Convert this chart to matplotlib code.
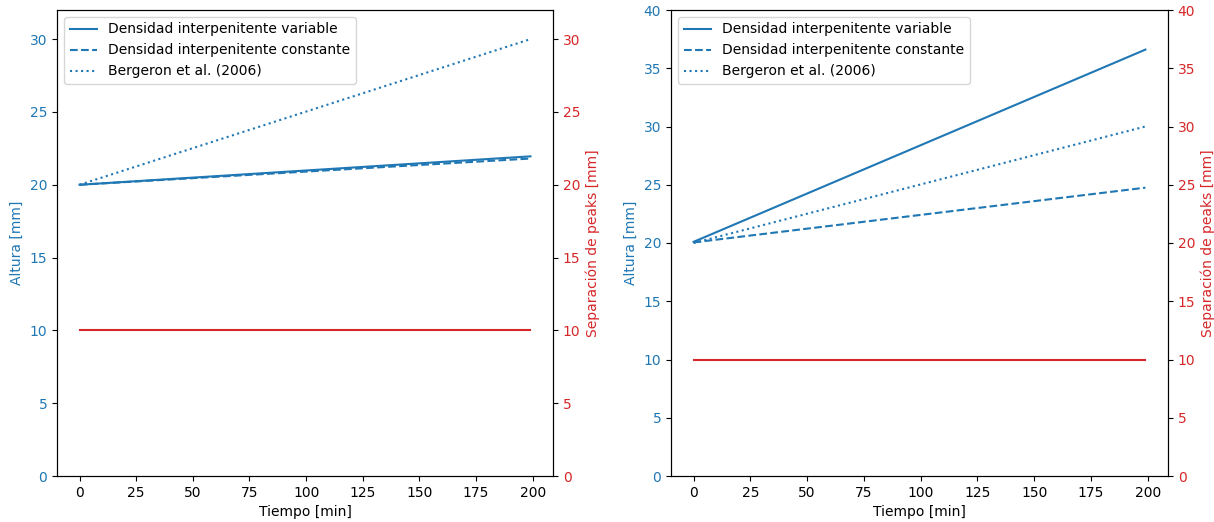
import numpy as np
import matplotlib.pyplot as plt

# tiempo [min]
t = [0, 199]

# panel izquierdo
izq_variable = [20.0, 21.95]
izq_constante = [20.0, 21.8]
izq_bergeron = [20.0, 30.0]
izq_separacion = [10.0, 10.0]

# panel derecho
der_variable = [20.1, 36.6]
der_constante = [20.05, 24.75]
der_bergeron = [20.0, 30.0]
der_separacion = [10.0, 10.0]

etiquetas = ['Densidad interpenitente variable',
             'Densidad interpenitente constante',
             'Bergeron et al. (2006)']

azul = 'tab:blue'
rojo = 'tab:red'


def panel(fig, rect, variable, constante, bergeron, separacion, ymax):
    ax = fig.add_axes(rect)
    ax.plot(t, variable, color=azul, linestyle='-', label=etiquetas[0])
    ax.plot(t, constante, color=azul, linestyle='--', label=etiquetas[1])
    ax.plot(t, bergeron, color=azul, linestyle=':', label=etiquetas[2])
    ax.set_ylim(0, ymax)
    ax.set_xticks(np.arange(0, 201, 25))
    ax.set_xlabel('Tiempo [min]')
    ax.set_ylabel('Altura [mm]', color=azul)
    ax.tick_params(axis='y', labelcolor=azul)
    ax.legend(loc='upper left')

    ax2 = ax.twinx()
    ax2.plot(t, separacion, color=rojo)
    ax2.set_ylim(0, ymax)
    ax2.set_ylabel('Separación de peaks [mm]', color=rojo)
    ax2.tick_params(axis='y', labelcolor=rojo)
    return ax, ax2


fig = plt.figure(figsize=(12.14, 5.22), dpi=100)
W, H = 1214, 522
panel(fig, [57 / W, 46 / H, 496 / W, 466 / H],
      izq_variable, izq_constante, izq_bergeron, izq_separacion, 32)
panel(fig, [671 / W, 46 / H, 497 / W, 466 / H],
      der_variable, der_constante, der_bergeron, der_separacion, 40)

fig.savefig('out.png', dpi=100)
